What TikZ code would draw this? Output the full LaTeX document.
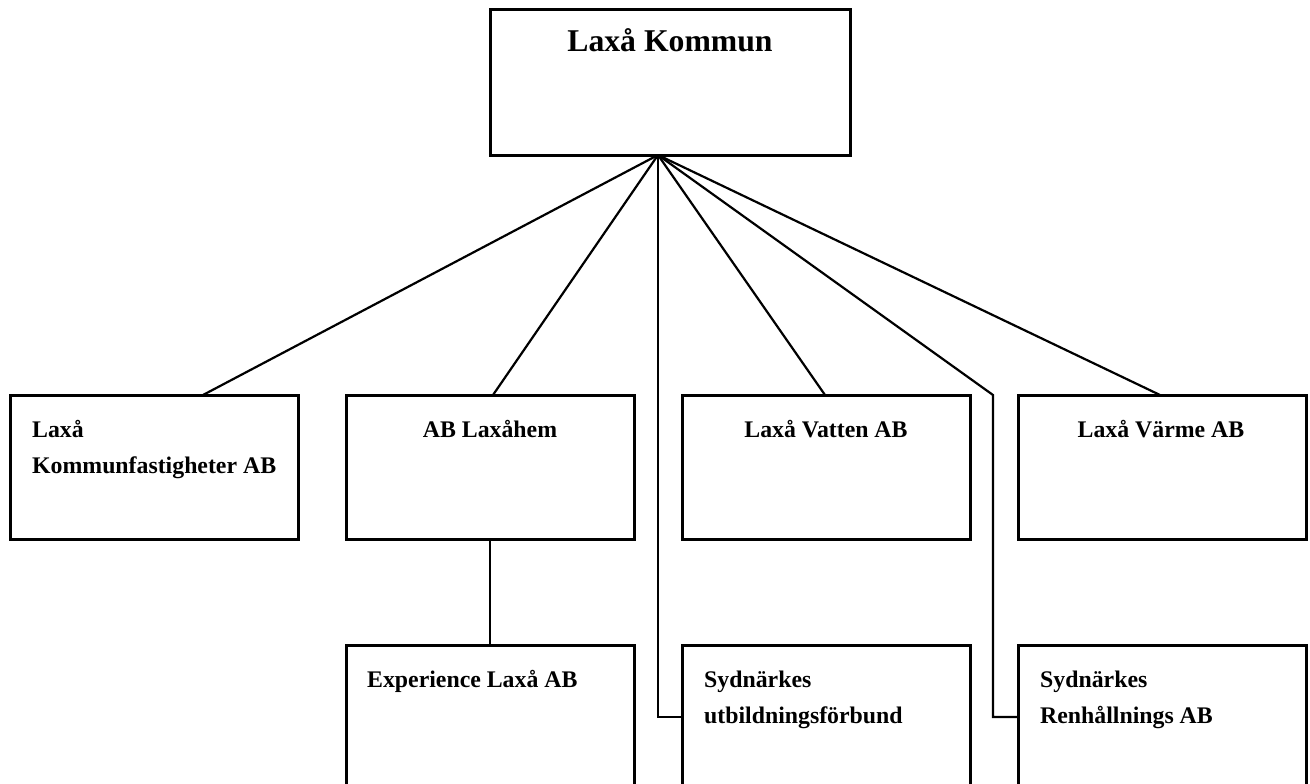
\documentclass[tikz,border=0pt]{standalone}
\usepackage{fontspec}
\setmainfont{Liberation Serif}
\usetikzlibrary{calc}
\begin{document}
\begin{tikzpicture}[x=1pt,y=-1pt,
  box/.style={draw, line width=3pt, inner sep=0pt, outer sep=0pt, anchor=north west,
              minimum width=288pt, minimum height=144pt},
  lowbox/.style={box, minimum height=160pt},
  topbox/.style={box, minimum width=360pt, minimum height=145pt},
  lbl/.style={inner sep=0pt, font=\bfseries\fontsize{23.8}{36}\selectfont, align=left},
  title/.style={inner sep=0pt, font=\bfseries\fontsize{31.7}{38}\selectfont},
  conn/.style={line width=2.2pt}]
\useasboundingbox (0,0) rectangle (1310,784);
\clip (0,0) rectangle (1310,784);
\fill[white] (0,0) rectangle (1310,784);

% boxes
\node[topbox] (top) at (490,10) {};
\node[box] (b1) at (10,395) {};
\node[box] (b2) at (346,395) {};
\node[box] (b3) at (682,395) {};
\node[box] (b4) at (1018,395) {};
\node[lowbox] (b5) at (346,645) {};
\node[lowbox] (b6) at (682,645) {};
\node[lowbox] (b7) at (1018,645) {};

% texts (base of multi-line nodes is the last line)
\node[title, anchor=base] (t0) at (670,52) {Laxå Kommun};
\node[lbl, anchor=base west] (t1) at (32,473) {Laxå\\Kommunfastigheter AB};
\node[lbl, anchor=base] (t2) at (490,437) {AB Laxåhem};
\node[lbl, anchor=base] (t3) at (826,437) {Laxå Vatten AB};
\node[lbl, anchor=base] (t4) at (1161,437) {Laxå Värme AB};
\node[lbl, anchor=base west] (t5) at (367,687) {Experience Laxå AB};
\node[lbl, anchor=base west] (t6) at (704,723) {Sydnärkes\\utbildningsförbund};
\node[lbl, anchor=base west] (t7) at (1040,723) {Sydnärkes\\Renhållnings AB};

% connectors
\coordinate (apex) at (658,155);
\coordinate (k7) at (993,395);
\draw[conn] (apex) -- ([xshift=193pt]b1.north west);
\draw[conn] (apex) -- ([xshift=147pt]b2.north west);
\draw[conn] (apex) -- ([xshift=143pt]b3.north west);
\draw[conn] (apex) -- ([xshift=142pt]b4.north west);
\draw[conn] (apex) |- ([yshift=-72pt]b6.north west);
\draw[conn] (apex) -- (k7) |- ([yshift=-72pt]b7.north west);
\draw[conn] (b2.south) -- (b5.north);
\end{tikzpicture}
\end{document}
